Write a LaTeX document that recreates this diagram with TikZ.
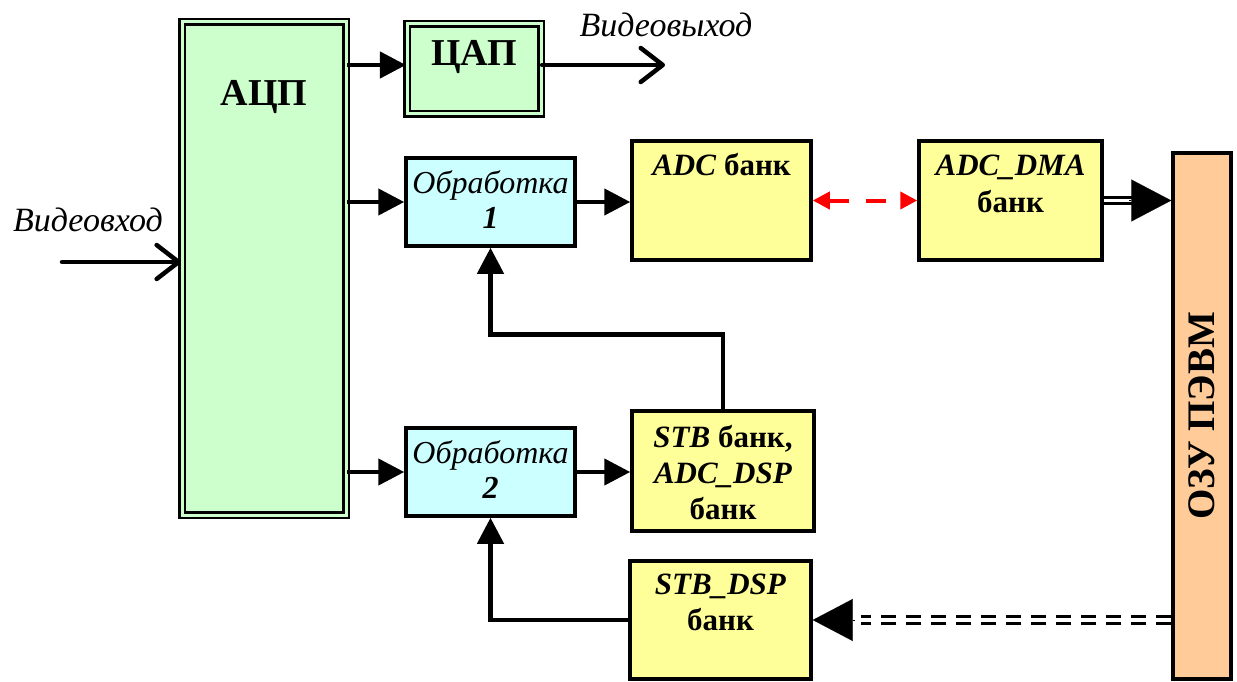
\documentclass[tikz,border=0pt]{standalone}
\usepackage{fontspec}
\setmainfont{Liberation Serif}
\usetikzlibrary{arrows.meta}
\definecolor{boxgreen}{HTML}{CCFFCC}
\definecolor{boxcyan}{HTML}{CCFFFF}
\definecolor{boxyellow}{HTML}{FFFF99}
\definecolor{boxorange}{HTML}{FFCC99}
\definecolor{linkred}{HTML}{FF0000}
\begin{document}
\begin{tikzpicture}[x=1pt,y=-1pt,
  box/.style={draw, line width=3.5pt, rectangle, inner sep=0pt},
  dbox/.style={draw, line width=2.2pt, double=boxgreen, double distance=3pt,
               fill=boxgreen, rectangle, inner sep=0pt},
  arr/.style={line width=4.5pt, -{Triangle[length=26pt,width=26pt]}},
  openarr/.style={line width=4.5pt, line cap=round,
                  -{Straight Barb[length=22pt,width=34pt,round]}},
  wire/.style={line width=4.5pt},
  lbl/.style={font=\fontsize{32}{35}\selectfont, align=center, inner sep=0pt},
  blbl/.style={font=\fontsize{31}{36}\selectfont\bfseries, align=center, inner sep=0pt},
  bigarr/.style={-{Triangle[length=40pt,width=42pt]}},
]
\useasboundingbox (0,0) rectangle (1237,682);

% blocks
\node[dbox, minimum width=164pt, minimum height=493pt] (adc) at (264,268.5) {};
\node[dbox, minimum width=134pt, minimum height=90pt] (dac) at (474,69) {};
\node[box, fill=boxcyan, minimum width=169pt, minimum height=88pt] (p1) at (490.5,202) {};
\node[box, fill=boxcyan, minimum width=169pt, minimum height=88pt] (p2) at (490.5,472) {};
\node[box, fill=boxyellow, minimum width=179pt, minimum height=119pt] (adcb) at (721.5,200.5) {};
\node[box, fill=boxyellow, minimum width=183pt, minimum height=119pt] (dma) at (1010.5,200.5) {};
\node[box, fill=boxyellow, minimum width=182pt, minimum height=120pt] (stb) at (723,471) {};
\node[box, fill=boxyellow, minimum width=181pt, minimum height=118pt] (stbd) at (720.5,620) {};
\node[box, fill=boxorange, minimum width=58pt, minimum height=526pt] (ram) at (1202,416) {};

% block texts
\node[blbl, font=\fontsize{38}{40}\selectfont\bfseries] (tadc) at (264,97) {АЦП};
\node[blbl, font=\fontsize{38}{40}\selectfont\bfseries] (tdac) at (474,57) {ЦАП};
\node[lbl] (tp1) at (490.5,200) {\textit{Обработка}\\\textbf{\textit{1}}};
\node[lbl] (tp2) at (490.5,470) {\textit{Обработка}\\\textbf{\textit{2}}};
\node[blbl] (tadcb) at (721.5,165) {\textit{ADC} банк};
\node[blbl, font=\fontsize{31}{37}\selectfont\bfseries] (tdma) at (1010.5,184) {\textit{ADC\_DMA}\\банк};
\node[blbl] (tstb) at (723,473) {\textit{STB} банк,\\\textit{ADC\_DSP}\\банк};
\node[blbl] (tstbd) at (720.5,602) {\textit{STB\_DSP}\\банк};
\node[blbl, font=\fontsize{39}{44}\selectfont\bfseries, rotate=90] (tram) at (1202,416) {ОЗУ ПЭВМ};

% outer signals
\node[lbl, font=\fontsize{34}{36}\selectfont\itshape] (tin) at (88,220) {Видеовход};
\node[lbl, font=\fontsize{34}{36}\selectfont\itshape] (tout) at (666,25) {Видеовыход};
\coordinate (vin) at (62,262);
\coordinate (vout) at (665,65);

% connectors
\draw[openarr] (vin) -- (adc.west |- vin);
\draw[arr] (adc.east |- vout) -- (dac.west |- vout);
\draw[openarr] (dac.east |- vout) -- (vout);
\draw[arr] (adc.east |- p1.west) -- (p1.west);
\draw[arr] (adc.east |- p2.west) -- (p2.west);
\draw[arr] (p1.east) -- (adcb.west |- p1.east);
\draw[arr] (p2.east) -- (stb.west |- p2.east);
\draw[arr] (stb.north) -- ++(0,-75) -| (p1.south);
\draw[arr] (stbd.west) -| (p2.south);

% red exchange link
\draw[linkred, line width=4pt, dash pattern=on 20pt off 17pt,
      {Triangle[length=17pt,width=17pt]}-{Triangle[length=17pt,width=17pt]}]
      (adcb.east) -- (dma.east -| dma.west);

% double links to and from the host memory
\draw[line width=2.7pt, double=white, double distance=2.7pt, shorten >=38pt]
      (dma.east) -- (ram.west |- dma.east);
\draw[bigarr, line width=0.1pt] ([xshift=-42pt]ram.west |- dma.east) -- (ram.west |- dma.east);
\draw[line width=3.5pt, double=white, double distance=3.2pt, dash pattern=on 15pt off 10pt, shorten >=48pt]
      (ram.west |- stbd.east) -- (stbd.east);
\draw[bigarr, line width=0.1pt] ([xshift=42pt]stbd.east) -- (stbd.east);
\end{tikzpicture}
\end{document}
